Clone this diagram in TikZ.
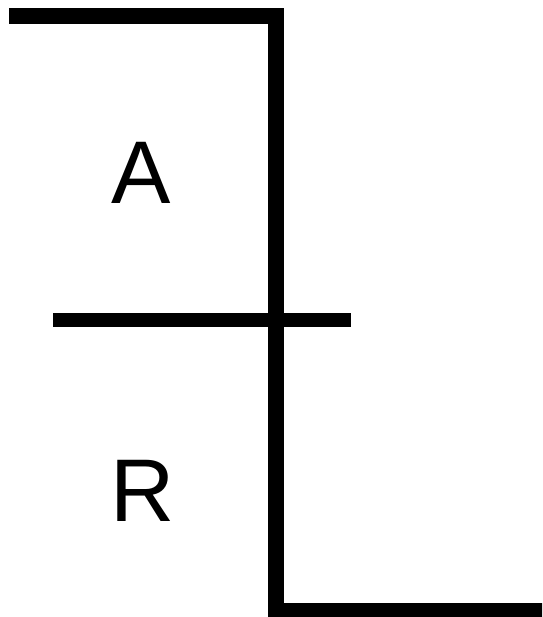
\documentclass[tikz,border=0pt]{standalone}
\usepackage{fontspec}
\setmainfont{Liberation Sans}
\begin{document}
\begin{tikzpicture}[x=1pt,y=-1pt,
  wall/.style={line width=16pt,line join=miter,line cap=butt},
  bar/.style={line width=13.5pt,line cap=butt},
  lbl/.style={inner sep=0pt,outer sep=0pt,font=\fontsize{89}{89}\selectfont,anchor=base}]
\useasboundingbox (0,0) rectangle (542,617);
\clip (0,0) rectangle (542,617);
\coordinate (p0) at (9,16);
\coordinate (p1) at (276,16);
\coordinate (p2) at (276,611);
\coordinate (p3) at (560,611);
\coordinate (m0) at (53,320);
\coordinate (m1) at (351,320);
\draw[wall] (p0) -- (p1) -- (p2) -- (p3);
\draw[bar] (m0) -- (m1);
\node[lbl] (a) at (141,203.3) {A};
\node[lbl] (r) at (142.4,521.7) {R};
\end{tikzpicture}
\end{document}
